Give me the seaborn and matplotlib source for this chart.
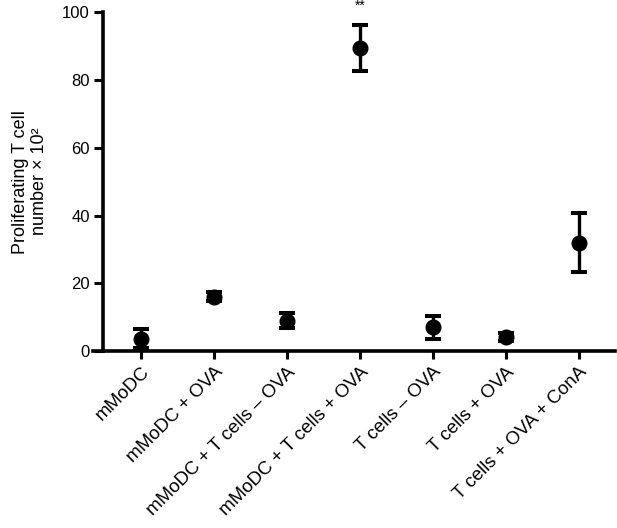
import matplotlib
matplotlib.use("Agg")
import matplotlib.pyplot as plt
import seaborn as sns

# values (mean and error, in units of 10^2 cells)
conditions = [
    "mMoDC",
    "mMoDC + OVA",
    "mMoDC + T cells – OVA",
    "mMoDC + T cells + OVA",
    "T cells – OVA",
    "T cells + OVA",
    "T cells + OVA + ConA",
]
means = [3.7, 16.1, 9.0, 89.4, 7.1, 4.1, 32.0]
errors = [2.7, 1.2, 2.2, 6.9, 3.4, 1.2, 8.7]
y_ticks = [0, 20, 40, 60, 80, 100]

sns.set_style("ticks")
plt.rcParams["font.family"] = ["Liberation Sans", "DejaVu Sans"]
plt.rcParams["text.color"] = "black"
plt.rcParams["axes.labelcolor"] = "black"
plt.rcParams["xtick.color"] = "black"
plt.rcParams["ytick.color"] = "black"
plt.rcParams["axes.edgecolor"] = "black"

fig = plt.figure(figsize=(6.17, 5.28), dpi=100)
ax = fig.add_axes([0.151, 0.335, 0.846, 0.642])

sns.pointplot(x=conditions, y=means, color="black", linestyle="none",
              markers="o", markersize=9.5, errorbar=None, ax=ax, zorder=3)
for ln in ax.lines:
    ln.set_clip_on(False)
eb = ax.errorbar(range(len(conditions)), means, yerr=errors, fmt="none",
                 ecolor="black", elinewidth=2.4, capsize=6, capthick=2.9,
                 clip_on=False, zorder=2)
for cap in eb[1]:
    cap.set_solid_capstyle("round")

# significance marker
ax.text(3, 101.8, "**", ha="center", va="center", fontsize=10)

ax.set_xlim(-0.654, 6.50)
ax.set_ylim(0, 100)
ax.set_yticks(y_ticks)
ax.spines["left"].set_position(("data", -0.517))
ax.spines["left"].set_bounds(0, 100)
sns.despine(ax=ax)
for s in ("left", "bottom"):
    ax.spines[s].set_linewidth(2.6)
    ax.spines[s].set_color("black")

ax.tick_params(axis="y", length=6.5, width=2.2, labelsize=12, pad=3,
               colors="black")
ax.tick_params(axis="x", length=6, width=2.2, labelsize=13.5, pad=3,
               colors="black")
plt.setp(ax.get_xticklabels(), rotation=45, ha="right",
         rotation_mode="anchor")

ax.set_xlabel("")
ax.set_ylabel("Proliferating T cell\nnumber × 10²", fontsize=13, labelpad=10,
              color="black")

fig.savefig("out.png", dpi=100)
